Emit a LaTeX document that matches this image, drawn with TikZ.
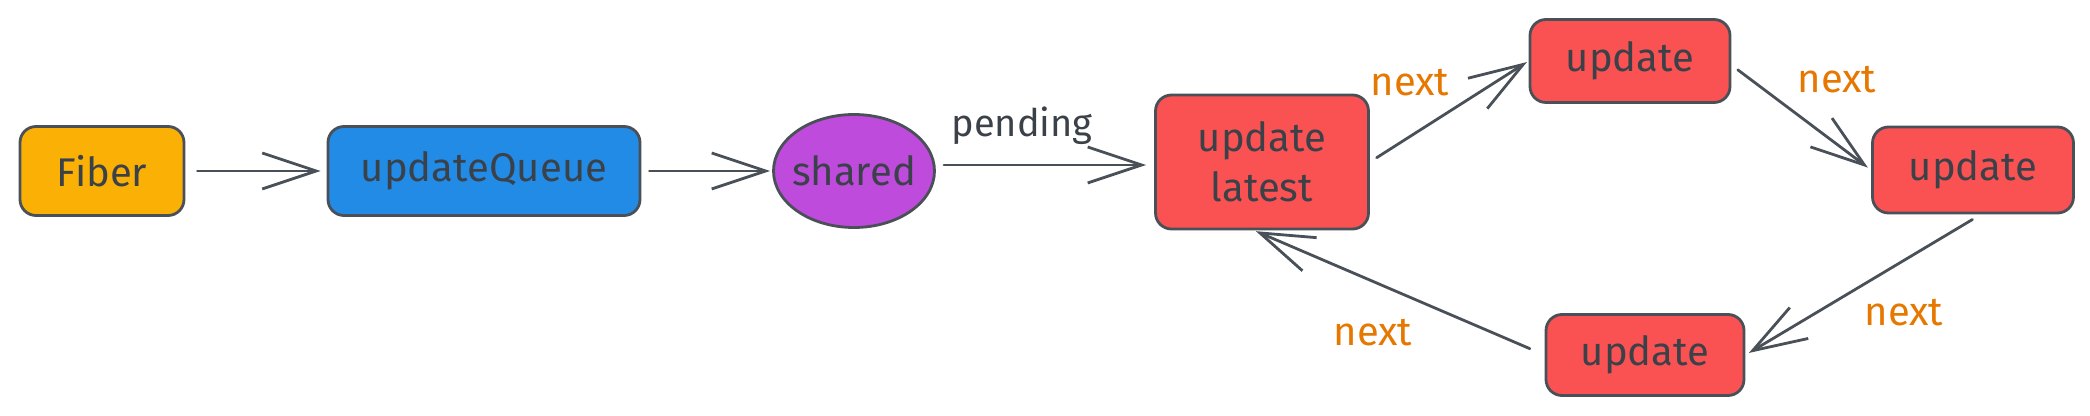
\documentclass[tikz,border=0pt]{standalone}
\usepackage{fontspec}
\setmainfont{Fira Sans}
\usetikzlibrary{arrows.meta,shapes.geometric}
\definecolor{ink}{HTML}{495057}
\definecolor{textink}{HTML}{3B4148}
\definecolor{fibercol}{HTML}{FAB005}
\definecolor{queuecol}{HTML}{228BE6}
\definecolor{sharedcol}{HTML}{BE4BDB}
\definecolor{updcol}{HTML}{FA5252}
\definecolor{nextcol}{HTML}{E67700}
\tikzset{
  box/.style={draw=ink, line width=1.4pt, rounded corners=8pt, text=textink, font=\fontsize{20}{22}\selectfont, align=center, inner sep=0pt},
  link/.style={draw=ink, line width=1.4pt, line cap=round, -{Straight Barb[length=27pt,width=18pt,line width=1.4pt]}},
  nextlbl/.style={text=nextcol, font=\fontsize{20}{22}\selectfont, inner sep=0pt},
  edgelbl/.style={text=textink, font=\fontsize{19}{22}\selectfont, inner sep=0pt}
}
\begin{document}
\begin{tikzpicture}[x=0.5pt,y=-0.5pt]
\useasboundingbox (0,0) rectangle (2090,416);
\node[box, fill=fibercol, minimum width=82pt, minimum height=44.5pt] (fiber) at (102,171) {Fiber};
\node[box, fill=queuecol, minimum width=156pt, minimum height=44.5pt] (queue) at (484,171) {updateQueue};
\node[box, ellipse, rounded corners=0pt, fill=sharedcol, inner xsep=-2.5pt, minimum width=79pt, minimum height=56.5pt] (shared) at (854,171) {shared};
\node[box, fill=updcol, minimum width=106.5pt, minimum height=67pt, font=\fontsize{20}{25}\selectfont] (latest) at (1262,162) {update\\latest};
\node[box, fill=updcol, minimum width=100pt, minimum height=41.5pt] (top) at (1630,61) {update};
\node[box, fill=updcol, minimum width=100.5pt, minimum height=43pt] (right) at (1973,170) {update};
\node[box, fill=updcol, minimum width=99pt, minimum height=40.5pt] (bottom) at (1645,355) {update};

\node[edgelbl] (pend) at (1022,126) {pending};
\node[nextlbl] (n1) at (1410,83) {next};
\node[nextlbl] (n2) at (1837,80) {next};
\node[nextlbl] (n3) at (1904,313) {next};
\node[nextlbl] (n4) at (1373,333) {next};

\draw[link, shorten <=6pt, shorten >=3pt] (fiber.east) -- (queue.west);
\draw[link, shorten <=4pt, shorten >=1pt] (queue.east) -- (shared.west);
\draw[link, shorten <=4pt, shorten >=4pt] ([yshift=3pt]shared.east) -- ([yshift=-1.5pt]latest.west);
\draw[link, shorten <=4pt, shorten >=1pt] (latest.east) -- (top.west);
\draw[link, shorten <=4pt, shorten >=2pt] ([yshift=-2pt]top.east) -- (right.west);
\draw[link, shorten <=5pt, shorten >=2pt] ([xshift=4pt]right.south) -- (bottom.east);
\draw[link, shorten <=8pt, shorten >=1pt] (bottom.west) -- ([xshift=-4pt]latest.south);
\end{tikzpicture}
\end{document}
